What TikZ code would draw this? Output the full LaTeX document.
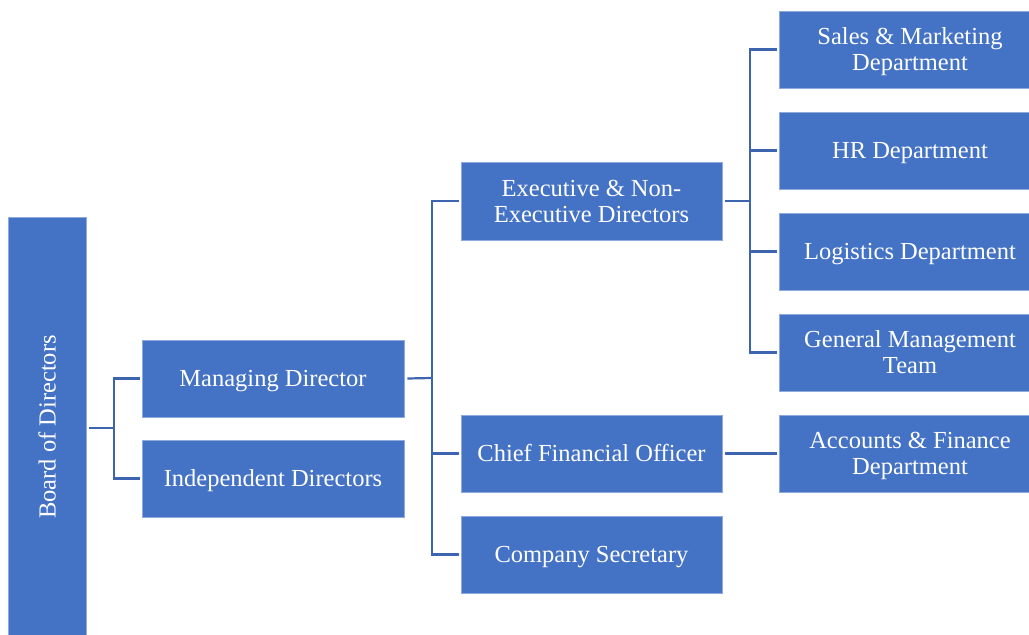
\documentclass[tikz,border=0pt]{standalone}
\usepackage{fontspec}
\usepackage{graphicx}
\setmainfont{Liberation Serif}
\definecolor{boxblue}{HTML}{4472C4}
\definecolor{lineblue}{HTML}{3D64AE}
\begin{document}
\begin{tikzpicture}[x=1pt,y=-1pt,
  box/.style={fill=boxblue,draw=boxblue!60!white,line width=0.6pt,text=white,align=center,inner sep=0pt,
    text height=17.5pt,text depth=1.5pt,font=\fontsize{24.5}{26}\selectfont},
  one/.style={},
  two/.style={text height=43.5pt},
  conn/.style={draw=lineblue,line width=2.2pt}]
\useasboundingbox (0,0) rectangle (1029,635);
\newcommand\bx[7]{\node[box,#7,minimum width=#4-#2,minimum height=#5-#3] (#1) at ({(#2+#4)/2},{(#3+#5)/2}) {#6};}
\node[box,text height=,text depth=,minimum width=78,minimum height=420] (bod) at (47,427) {\rotatebox{90}{Board of Directors}};
\bx{md}{142}{340}{404}{417}{Managing Director}{one}
\bx{id}{142}{440}{404}{517}{Independent Directors}{one}
\bx{ex}{461}{162}{722}{240}{Executive \& Non-\\Executive Directors}{two}
\bx{cfo}{461}{415}{722}{492}{Chief Financial Officer}{one}
\bx{cs}{461}{516}{722}{593}{Company Secretary}{one}
\bx{sm}{779}{11}{1041}{88}{Sales \& Marketing\\Department}{two}
\bx{hr}{779}{112}{1041}{189}{HR Department}{one}
\bx{lg}{779}{213}{1041}{290}{Logistics Department}{one}
\bx{gm}{779}{314}{1041}{391}{General Management\\Team}{two}
\bx{af}{779}{415}{1041}{492}{Accounts \& Finance\\Department}{two}
% connectors
\coordinate (j1) at (114,428);
\coordinate (j2) at (432,378);
\coordinate (j3) at (750,201);
\draw[conn] ([xshift=3pt]bod.east |- j1) -- (j1);
\draw[conn] ([xshift=-2pt]md.west) -| (j1) |- ([xshift=-2pt]id.west);
\draw[conn] ([xshift=3pt]md.east) -- (j2);
\draw[conn] ([xshift=-2pt]ex.west) -| (j2) |- ([xshift=-2pt]cs.west);
\draw[conn] (j2) |- ([xshift=-2pt]cfo.west);
\draw[conn] ([xshift=3pt]ex.east) -- (j3);
\draw[conn] ([xshift=-2pt]sm.west) -| (j3) |- ([xshift=-2pt]gm.west);
\draw[conn] (j3) |- ([xshift=-2pt]hr.west);
\draw[conn] (j3) |- ([xshift=-2pt]lg.west);
\draw[conn] ([xshift=3pt]cfo.east) -- ([xshift=-2pt]af.west);
\end{tikzpicture}
\end{document}
